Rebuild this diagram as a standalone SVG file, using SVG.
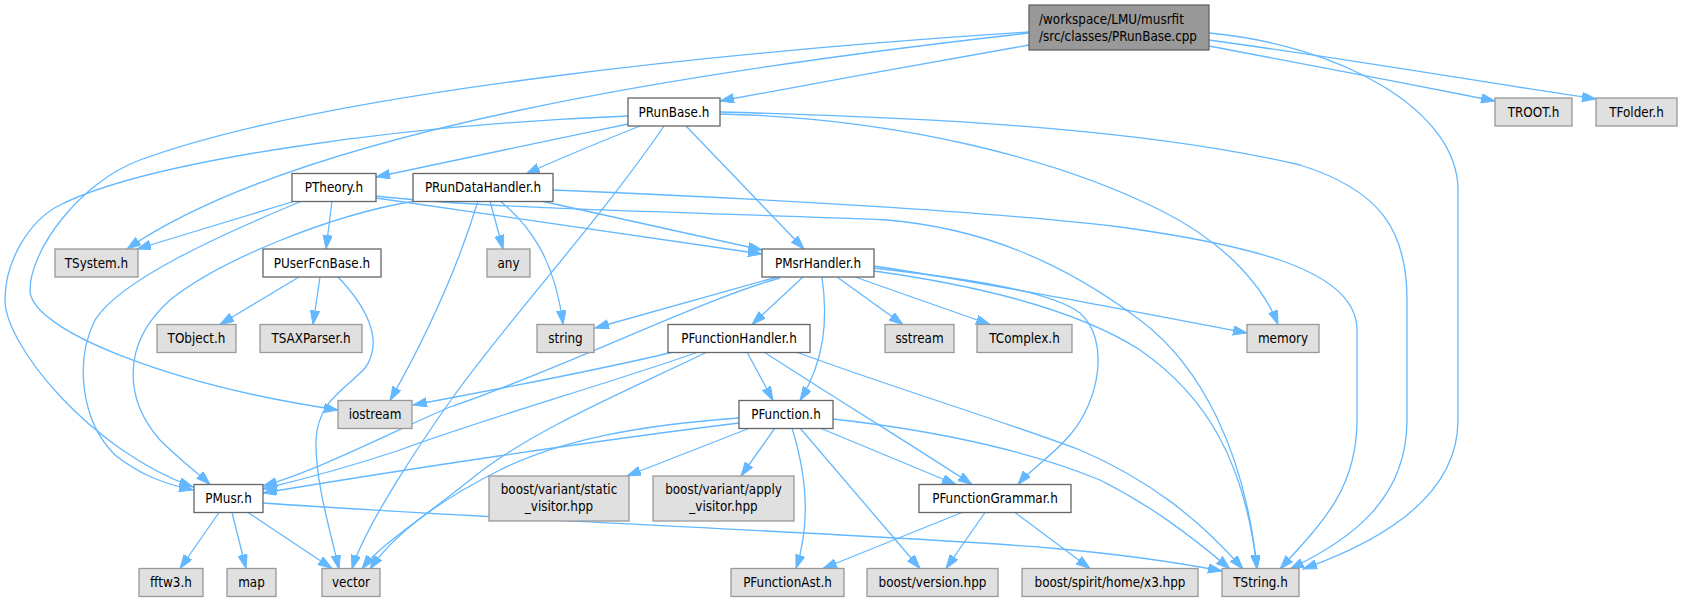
<svg xmlns="http://www.w3.org/2000/svg" width="1682" height="602" viewBox="0 0 1682 602">
<style>
.e{fill:none;stroke:#63b8ff;stroke-width:1.3;marker-end:url(#a)}
.n rect{fill:#ffffff;stroke:#666666;stroke-width:1.3}
.g rect{fill:#e0e0e0;stroke:#999999;stroke-width:1.3}
.r rect{fill:#999999;stroke:#666666;stroke-width:1.3}
text{font-family:"DejaVu Sans Condensed","DejaVu Sans",sans-serif;font-stretch:condensed;font-size:13.33px;fill:#000000;text-anchor:middle}
.r text{text-anchor:start}
</style>
<defs>
<marker id="a" markerUnits="userSpaceOnUse" markerWidth="15" markerHeight="10" refX="14" refY="4.7" orient="auto">
<path d="M0,0 L14,4.7 L0,9.4 z" fill="#63b8ff" stroke="#63b8ff" stroke-width="1"/>
</marker>
</defs>
<rect width="1682" height="602" fill="#ffffff"/>
<g id="edges">
<path class="e" d="M1029,45 C930,63 820,82 720,101"/>
<path class="e" d="M1209,46 C1300,63 1400,82 1495,101"/>
<path class="e" d="M1209,40 C1340,58 1470,80 1596,99"/>
<path class="e" d="M1209,33 C1340,45 1458,110 1458,190 L1458,420 C1458,495 1385,540 1303,569"/>
<path class="e" d="M1029,33 C700,70 300,130 127,249"/>
<path class="e" d="M1029,32 C750,50 330,90 140,160 C80,182 30,250 30,290 C30,330 170,385 338,410"/>
<path class="e" d="M628,124 C540,142 450,162 376,177"/>
<path class="e" d="M640,126 C600,142 560,158 526,174"/>
<path class="e" d="M686,126 L804,249"/>
<path class="e" d="M664,126 C600,220 500,330 451,400 C426,435 365,525 352,569"/>
<path class="e" d="M720,114 C900,118 1060,160 1160,210 C1230,245 1265,290 1278,324.5"/>
<path class="e" d="M720,112 C950,118 1150,130 1300,165 C1380,190 1407,230 1407,300 L1407,420 C1407,500 1350,540 1290,569"/>
<path class="e" d="M628,116 C400,125 150,160 60,205 C30,220 5,260 5,300 C5,345 90,450 193,487"/>
<path class="e" d="M295,201 L137,249"/>
<path class="e" d="M332,201 L326,249"/>
<path class="e" d="M302,201 C220,235 120,280 95,320 C75,360 80,420 115,455 C140,475 165,484 193,490"/>
<path class="e" d="M376,198 C450,208 600,230 762,254"/>
<path class="e" d="M376,196 C500,210 700,212 887,220 C980,228 1060,260 1140,320 C1200,365 1245,450 1257,569"/>
<path class="e" d="M541,201 L762,250"/>
<path class="e" d="M490,201 L503,249"/>
<path class="e" d="M500,201 C530,225 555,260 563,324.5"/>
<path class="e" d="M478,201 C460,260 430,330 390,400.5"/>
<path class="e" d="M415,201 C330,215 220,260 170,300 C120,345 125,400 160,440 C180,460 200,475 210,484.5"/>
<path class="e" d="M553,190 C750,198 1000,212 1120,227 C1250,245 1357,270 1357,330 L1357,420 C1357,490 1320,525 1280,569"/>
<path class="e" d="M299,277 L220,324.5"/>
<path class="e" d="M320,277 L313,324.5"/>
<path class="e" d="M338,277 C365,305 385,340 365,368 C345,390 318,400 316,440 C315,480 330,530 339,569"/>
<path class="e" d="M777,277 L595,328"/>
<path class="e" d="M780,278 C700,300 560,370 450,407 C400,428 320,470 263,486"/>
<path class="e" d="M803,277 L752,324.5"/>
<path class="e" d="M822,277 C828,320 825,360 800,400.5"/>
<path class="e" d="M837,277 L903,324.5"/>
<path class="e" d="M855,277 L990,324.5"/>
<path class="e" d="M874,266 C980,282 1100,305 1247,333"/>
<path class="e" d="M874,268 C960,278 1050,290 1080,313 C1110,340 1100,400 1070,435 C1050,458 1030,470 1018,484.5"/>
<path class="e" d="M874,271 C960,283 1070,305 1140,350 C1205,395 1245,460 1257,569"/>
<path class="e" d="M673,352 C620,365 520,385 413,405"/>
<path class="e" d="M698,352 C620,380 480,420 400,450 C340,470 300,480 263,489"/>
<path class="e" d="M707,352 C640,385 530,430 470,480 C420,520 380,545 362,569"/>
<path class="e" d="M747,352 L773,400.5"/>
<path class="e" d="M764,352 C830,395 920,450 972,484.5"/>
<path class="e" d="M796,352 C900,390 1000,420 1080,450 C1150,480 1200,520 1243,569"/>
<path class="e" d="M739,423 C600,440 400,470 263,493"/>
<path class="e" d="M739,418 C640,425 560,440 500,470 C430,505 390,540 370,569"/>
<path class="e" d="M750,428 L627,476"/>
<path class="e" d="M775,428 L741,476"/>
<path class="e" d="M792,428 C805,470 812,520 796,568.5"/>
<path class="e" d="M800,428 L920,568.5"/>
<path class="e" d="M820,428 L956,484.5"/>
<path class="e" d="M833,419 C950,432 1040,455 1100,480 C1150,505 1190,535 1230,569"/>
<path class="e" d="M962,512.5 L823,568.5"/>
<path class="e" d="M985,512.5 L946,568.5"/>
<path class="e" d="M1015,512.5 L1090,568.5"/>
<path class="e" d="M219,512.5 L180,568.5"/>
<path class="e" d="M232,512.5 L246,568.5"/>
<path class="e" d="M248,512.5 L332,568.5"/>
<path class="e" d="M263,503 C500,520 900,535 1050,548 C1130,555 1180,563 1222,571"/>
</g>
<g id="root" class="r"><rect x="1029" y="5" width="180" height="45"/><text x="1039" y="23.5">/workspace/LMU/musrfit</text><text x="1039" y="40.5">/src/classes/PRunBase.cpp</text></g>
<g id="PRunBase" class="n"><rect x="628" y="98" width="92" height="28"/><text x="674" y="116.8">PRunBase.h</text></g>
<g id="TROOT" class="g"><rect x="1495" y="98" width="77" height="28"/><text x="1533.5" y="116.8">TROOT.h</text></g>
<g id="TFolder" class="g"><rect x="1596" y="98" width="81" height="28"/><text x="1636.5" y="116.8">TFolder.h</text></g>
<g id="PTheory" class="n"><rect x="292" y="173.5" width="84" height="28"/><text x="334" y="192.3">PTheory.h</text></g>
<g id="PRunDataHandler" class="n"><rect x="413" y="173.5" width="140" height="28"/><text x="483" y="192.3">PRunDataHandler.h</text></g>
<g id="TSystem" class="g"><rect x="55" y="249" width="83" height="28"/><text x="96.5" y="267.8">TSystem.h</text></g>
<g id="PUserFcnBase" class="n"><rect x="263" y="249" width="118" height="28"/><text x="322" y="267.8">PUserFcnBase.h</text></g>
<g id="any" class="g"><rect x="487" y="249" width="43" height="28"/><text x="508.5" y="267.8">any</text></g>
<g id="PMsrHandler" class="n"><rect x="762" y="249" width="112" height="28"/><text x="818" y="267.8">PMsrHandler.h</text></g>
<g id="TObject" class="g"><rect x="157" y="324.5" width="79" height="28"/><text x="196.5" y="343.3">TObject.h</text></g>
<g id="TSAXParser" class="g"><rect x="260" y="324.5" width="102" height="28"/><text x="311" y="343.3">TSAXParser.h</text></g>
<g id="string" class="g"><rect x="537" y="324.5" width="57" height="28"/><text x="565.5" y="343.3">string</text></g>
<g id="PFunctionHandler" class="n"><rect x="668" y="324.5" width="142" height="28"/><text x="739" y="343.3">PFunctionHandler.h</text></g>
<g id="sstream" class="g"><rect x="885" y="324.5" width="69" height="28"/><text x="919.5" y="343.3">sstream</text></g>
<g id="TComplex" class="g"><rect x="977" y="324.5" width="95" height="28"/><text x="1024.5" y="343.3">TComplex.h</text></g>
<g id="memory" class="g"><rect x="1247" y="324.5" width="72" height="28"/><text x="1283" y="343.3">memory</text></g>
<g id="iostream" class="g"><rect x="338" y="400.5" width="74" height="28"/><text x="375" y="419.3">iostream</text></g>
<g id="PFunction" class="n"><rect x="739" y="400.5" width="94" height="28"/><text x="786" y="419.3">PFunction.h</text></g>
<g id="PMusr" class="n"><rect x="194" y="484.5" width="69" height="28"/><text x="228.5" y="503.3">PMusr.h</text></g>
<g id="static_visitor" class="g"><rect x="489" y="476" width="140" height="45"/><text x="559" y="494">boost/variant/static</text><text x="559" y="511">_visitor.hpp</text></g>
<g id="apply_visitor" class="g"><rect x="653" y="476" width="141" height="45"/><text x="723.5" y="494">boost/variant/apply</text><text x="723.5" y="511">_visitor.hpp</text></g>
<g id="PFunctionGrammar" class="n"><rect x="919" y="484.5" width="152" height="28"/><text x="995" y="503.3">PFunctionGrammar.h</text></g>
<g id="fftw3" class="g"><rect x="139" y="568.5" width="64" height="28"/><text x="171" y="587.3">fftw3.h</text></g>
<g id="map" class="g"><rect x="227" y="568.5" width="49" height="28"/><text x="251.5" y="587.3">map</text></g>
<g id="vector" class="g"><rect x="322" y="568.5" width="58" height="28"/><text x="351" y="587.3">vector</text></g>
<g id="PFunctionAst" class="g"><rect x="731" y="568.5" width="113" height="28"/><text x="787.5" y="587.3">PFunctionAst.h</text></g>
<g id="boost_version" class="g"><rect x="867" y="568.5" width="131" height="28"/><text x="932.5" y="587.3">boost/version.hpp</text></g>
<g id="spirit_x3" class="g"><rect x="1022" y="568.5" width="176" height="28"/><text x="1110" y="587.3">boost/spirit/home/x3.hpp</text></g>
<g id="TString" class="g"><rect x="1222" y="568.5" width="77" height="28"/><text x="1260.5" y="587.3">TString.h</text></g>
</svg>
